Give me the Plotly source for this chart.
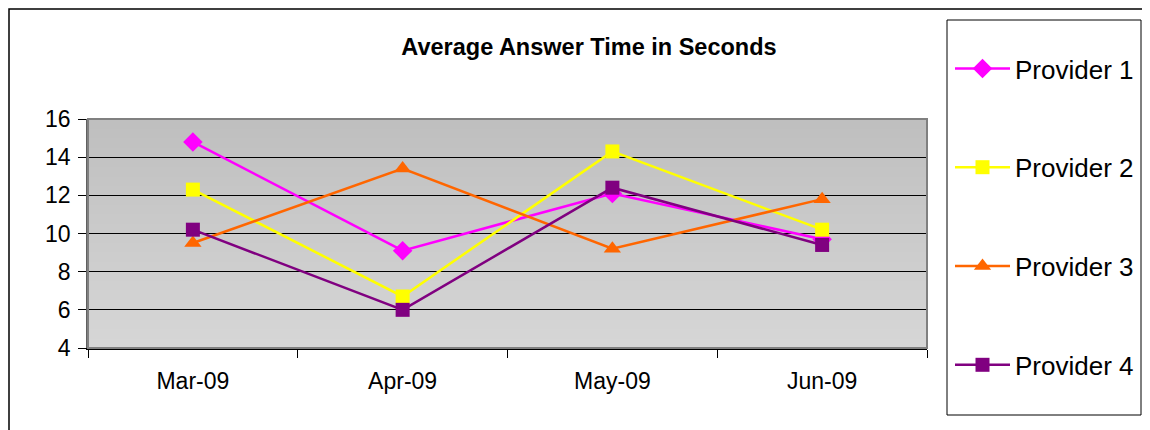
import plotly.graph_objects as go

# page body has an 8px margin; work in screen coords and shift
OFF = 8
W, H = 1150 - OFF, 430 - OFF

months = ["Mar-09", "Apr-09", "May-09", "Jun-09"]
provider1 = [14.8, 9.1, 12.1, 9.7]
provider2 = [12.3, 6.7, 14.3, 10.2]
provider3 = [9.5, 13.4, 9.2, 11.8]
provider4 = [10.2, 6.0, 12.4, 9.4]
y_ticks = [4, 6, 8, 10, 12, 14, 16]

series = [
    ("Provider 1", provider1, "#FF00FF", "diamond", 15),
    ("Provider 2", provider2, "#FFFF00", "square", 14),
    ("Provider 3", provider3, "#FF6600", "triangle-up", 15),
    ("Provider 4", provider4, "#800080", "square", 14),
]

def px(x):
    return (x - OFF) / W

def py(y):
    return 1 - (y - OFF) / H

fig = go.Figure()
for i, (name, vals, color, sym, size) in enumerate(series):
    fig.add_trace(go.Scatter(
        x=months, y=vals, name=name, mode="lines+markers",
        line=dict(color=color, width=2.5),
        marker=dict(symbol=sym, size=size, color=color, line=dict(width=0)),
        legendgroup=f"g{i}",
    ))

shapes = []
# gradient plot background
n = 24
for k in range(n):
    t = k / (n - 1)
    c = int(round(191 + (214 - 191) * t))
    shapes.append(dict(type="rect", xref="x domain", yref="y domain",
                       x0=0, x1=1, y0=max(0, 1 - (k + 1) / n - 0.01), y1=1 - k / n,
                       fillcolor=f"rgb({c},{c},{c})", line=dict(width=0),
                       layer="below"))
# plot-area border
shapes.append(dict(type="rect", xref="x domain", yref="y domain",
                   x0=0, x1=1, y0=0, y1=1, line=dict(color="#808080", width=2),
                   layer="above"))
# outer chart border
shapes.append(dict(type="rect", xref="paper", yref="paper",
                   x0=px(9), x1=px(1170), y0=py(450), y1=py(9),
                   line=dict(color="#000000", width=1.5)))
# legend box
shapes.append(dict(type="rect", xref="paper", yref="paper",
                   x0=px(947), x1=px(1141), y0=py(415), y1=py(20),
                   line=dict(color="#000000", width=1), fillcolor="white",
                   layer="below"))

fig.update_layout(
    width=W, height=H,
    margin=dict(l=0, r=0, t=0, b=0, autoexpand=False),
    paper_bgcolor="white",
    plot_bgcolor="rgba(0,0,0,0)",
    font=dict(family="Liberation Sans, Arial, sans-serif", color="black"),
    title=dict(text="<b>Average Answer Time in Seconds</b>",
               x=px(589), xanchor="center", y=py(47), yanchor="middle",
               font=dict(size=23.5, color="black")),
    xaxis=dict(domain=[px(88), px(927)], type="category", automargin=False,
               tickson="boundaries", ticks="outside", ticklen=8,
               tickcolor="black", showgrid=False, showline=True,
               linecolor="black", linewidth=1.5, zeroline=False,
               ticklabelstandoff=12,
               tickfont=dict(size=23), range=[-0.5, 3.5]),
    yaxis=dict(domain=[py(348), py(119)], range=[4, 16], tickvals=y_ticks,
               automargin=False, ticklabelstandoff=3,
               ticks="outside", ticklen=8, tickcolor="black",
               showgrid=True, gridcolor="black", gridwidth=1,
               showline=True, linecolor="#606060", linewidth=1.5,
               zeroline=False, tickfont=dict(size=23)),
    showlegend=True,
    legend=dict(x=px(950), xanchor="left", y=py(45), yanchor="top",
                bgcolor="rgba(0,0,0,0)", borderwidth=0,
                font=dict(size=26, color="black"), itemwidth=55,
                tracegroupgap=62, traceorder="grouped"),
    shapes=shapes,
)

fig.write_html("out.html")
